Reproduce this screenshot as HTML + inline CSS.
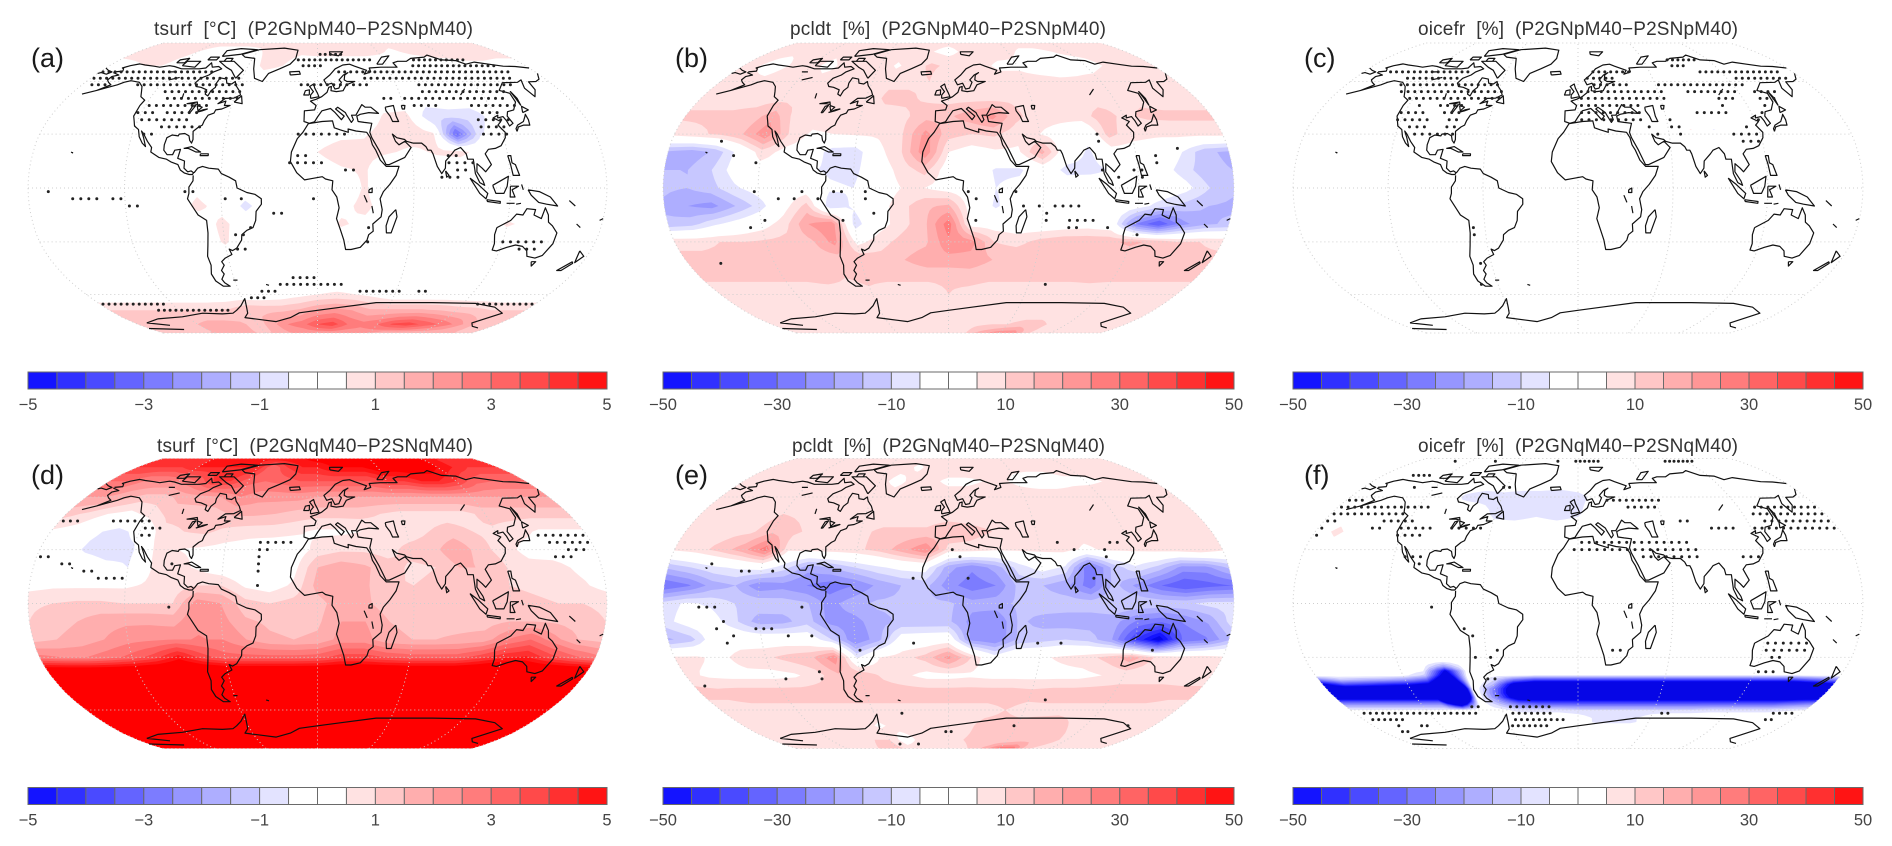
<!DOCTYPE html>
<html lang="en">
<head>
<meta charset="utf-8">
<title>Climate model difference maps</title>
<style>
html,body{margin:0;padding:0;background:#fff;}
svg{display:block;font-family:"Liberation Sans",sans-serif;filter:blur(0.35px);}
.title{font-size:19px;fill:#333;white-space:pre;}
.plabel{font-size:27px;fill:#1a1a1a;}
.tick{font-size:16.5px;fill:#444;text-anchor:middle;}
</style>
</head>
<body>
<svg id="fig" xmlns="http://www.w3.org/2000/svg" width="1892" height="846" viewBox="0 0 1892 846">
<rect width="1892" height="846" fill="#fff"/>
<g id="maps"></g>
<g id="bars"></g>
<text class="title" x="154" y="35" textLength="319" xml:space="preserve">tsurf  [°C]  (P2GNpM40−P2SNpM40)</text>
<text class="title" x="790" y="35" textLength="316" xml:space="preserve">pcldt  [%]  (P2GNpM40−P2SNpM40)</text>
<text class="title" x="1418" y="35" textLength="320" xml:space="preserve">oicefr  [%]  (P2GNpM40−P2SNpM40)</text>
<text class="title" x="157" y="452" textLength="316" xml:space="preserve">tsurf  [°C]  (P2GNqM40−P2SNqM40)</text>
<text class="title" x="792" y="452" textLength="313" xml:space="preserve">pcldt  [%]  (P2GNqM40−P2SNqM40)</text>
<text class="title" x="1418" y="452" textLength="320" xml:space="preserve">oicefr  [%]  (P2GNqM40−P2SNqM40)</text>
<text class="plabel" x="31" y="67">(a)</text>
<text class="plabel" x="675" y="67">(b)</text>
<text class="plabel" x="1304" y="67">(c)</text>
<text class="plabel" x="31" y="484">(d)</text>
<text class="plabel" x="675" y="484">(e)</text>
<text class="plabel" x="1304" y="484">(f)</text>
</svg>
<script>
/* ---------- grid axes ---------- */
const gridLons = [-180,-165,-150,-135,-120,-105,-90,-75,-60,-45,-30,-15,0,15,30,45,60,75,90,105,120,135,150,165];
const stdLats = [90,80,70,60,50,40,30,20,10,0,-10,-20,-30,-40,-50,-60,-70,-80,-90];
const zeroRow = [0,0,0,0,0,0,0,0,0,0,0,0,0,0,0,0,0,0,0,0,0,0,0,0];

/* ---------- colour scale ---------- */
const levelEdges = [0.5,1,1.5,2,2.5,3,3.5,4,4.5,5];
const redFills = ['#ffe2e2','#ffc7c7','#ffaeae','#ff9696','#ff7c7c','#ff6464','#ff4a4a','#ff3030','#ff1414','#ff0000'];
const blueFills = ['#e3e3ff','#c7c7ff','#aeaeff','#9696ff','#7c7cff','#6464ff','#4a4aff','#3030ff','#1414ff','#0606e6'];
const tempTicks = ['−5','−3','−1','1','3','5'];
const pctTicks = ['−50','−30','−10','10','30','50'];

/* ---------- (a) tsurf P, deg C ---------- */
const fieldA = [
[.7,.7,.7,.7,.7,.7,.7,.7,.7,.7,.7,.7,.7,.7,.7,.7,.7,.7,.7,.7,.7,.7,.7,.7],
[.7,.7,.7,.6,.5,.3,.3,.3,.4,.7,.7,.6,.7,.7,.7,.7,.6,.4,.6,.7,.7,.7,.7,.7],
[.3,.4,.5,.5,.4,.1,0,0,.1,.7,.5,.2,.1,.1,.1,.1,.1,.1,.1,.2,.3,.4,.4,.3],
zeroRow,
zeroRow,
[0,0,0,0,0,0,0,0,0,0,0,0,0,-.5,-.2,.6,.7,-1,-.8,-.9,-.1,0,0,0],
[0,0,0,0,0,0,0,0,0,0,0,0,.1,.3,.4,.9,1,.6,-3.2,-.6,0,0,0,0],
[0,0,0,0,0,0,0,0,0,0,0,.2,.5,.9,.8,.6,.3,.6,.7,.2,0,0,0,0],
[0,0,0,0,0,0,0,0,0,0,0,0,.1,.4,.6,-.5,0,0,0,0,0,0,0,0],
[0,0,0,0,0,0,0,.3,-.4,0,0,0,-.4,0,.6,-.5,0,0,0,0,0,0,0,0],
[0,0,0,0,0,0,0,.7,.2,-.7,0,0,0,.3,.7,0,0,0,0,0,0,0,0,0],
[0,0,0,0,0,0,0,0,.7,0,0,0,0,.6,.3,0,0,0,0,0,.6,.3,0,0],
[0,0,0,0,0,0,0,0,.6,0,0,0,0,0,0,0,0,0,0,0,0,0,0,0],
zeroRow,
zeroRow,
[0,0,0,0,0,0,0,0,0,0,.1,.3,.5,.6,.5,.3,0,0,0,0,0,0,0,0],
[1,1,1,1,1,1,1,1.1,1.5,1.4,1.4,1.6,2,2.2,2,1.6,1.6,1.6,1.6,1.5,1.3,1.2,1,1],
[1,1,1,1.2,1.5,1.7,1.7,1.6,1.2,1.8,2.5,2.8,3.5,3.8,3,2.7,3,3.6,3.8,3.4,3,2.5,1.8,1.2],
[1.5,1.5,1.5,1.5,1.5,1.5,1.5,1.5,1.5,1.5,2,2,2,2,2,2,2,1.5,1.5,1.5,1.5,1.5,1.5,1.5]
];
const dotsA = [
[78,2.5,22.5],[74,-17.5,47.5],[74,87.5,132.5],[70,-12.5,2.5],[70,82.5,152.5],
[66,-177.5,-127.5],[66,-122.5,-87.5],[66,17.5,157.5],[62,-177.5,-62.5],[62,37.5,152.5],
[58,-172.5,-162.5],[58,-137.5,-57.5],[58,-12.5,37.5],[58,77.5,147.5],[54,-112.5,-57.5],[54,77.5,137.5],
[50,-107.5,-57.5],[50,47.5,52.5],[50,62.5,132.5],[46,-117.5,-77.5],[46,67.5,82.5],[46,107.5,137.5],
[42,-122.5,-112.5],[42,-102.5,-82.5],[42,112.5,122.5],[38,-117.5,-87.5],[38,107.5,127.5],
[34,-102.5,-77.5],[34,107.5,122.5],[30,-112.5,-107.5],[30,-12.5,17.5],[30,107.5,122.5],
[18,-12.5,-7.5],[18,82.5,87.5],[14,-17.5,2.5],[14,82.5,97.5],[10,87.5,92.5],[10,17.5,22.5],[6,77.5,87.5],
[-2,-167.5,-167.5],[-2,-77.5,-77.5],[-2,-82.5,-82.5],[-6,-152.5,-137.5],[-6,-127.5,-122.5],[-6,-47.5,-47.5],[-6,-57.5,-57.5],[-6,-2.5,-2.5],
[-10,-117.5,-112.5],[-14,-27.5,-22.5],[-22,-42.5,-42.5],[-22,32.5,32.5],[-26,-52.5,-47.5],[-30,32.5,32.5],
[-30,120,147.5],[-34,-52.5,-47.5],[-34,132.5,142.5],
[-50,-17.5,-2.5],[-54,-27.5,17.5],[-58,-42.5,-32.5],[-58,32.5,62.5],[-58,77.5,82.5],[-62,-52.5,-42.5],
[-66,-177.5,-127.5],[-66,132.5,177.5],[-70,-137.5,-77.5]
];

/* ---------- (b) pcldt P, percent ---------- */
const fieldB = [
[7,7,7,7,7,7,7,7,7,7,7,7,7,7,7,7,7,7,7,7,7,7,7,7],
[6,6,6,6,6,6,7,7,8,8,7,5,3,6,7,7,6,4,4,5,6,6,6,6],
[6,5,3,6,6,4,6,6,9,4,8,11,9,8,6,4,4,2,2,3,3,5,6,6],
[7,6,6,7,7,6,5,5,8,9,9,10,5,6,7,7,7,7,6,6,7,9,7,7],
[8,8,8,8,8,9,8,7,7,11,11,9,8,8,8,9,8,8,8,8,9,9,8,8],
[11,11,11,12,18,8,8,9,8,8,9,13,14,18,22,12,7,7,8,12,9,11,11,11],
[7,9,11,15,24,10,4,5,6,6,10,22,12,10,11,7,5,2,-3,12,7,6,7,7],
[-16,-18,-14,-3,8,3,1,-8,-9,3,10,24,5,2,4,4,17,0,-6,2,2,1,-5,-14],
[-15,-15,-10,-2,2,1,-4,-6,-7,1,7,12,1,1,-6,-6,0,-7,-7,-4,-2,-2,-8,-14],
[-14,-15,-12,-6,-2,0,1,-4,-5,1,5,5,2,1,-5,-3,1,0,1,-1,1,1,-3,-10],
[-16,-20,-22,-15,-8,2,12,-9,-4,2,8,14,16,1,-6,0,1,0,-1,0,-2,-8,-12,-15],
[-14,-12,-6,-2,2,8,20,24,-8,2,8,14,28,2,2,1,0,1,2,0,-25,-35,-22,-16],
[9,9,10,10,11,12,14,22,3,8,12,14,24,22,10,8,12,14,14,14,16,14,10,10],
[11,11,11,11,10,11,12,12,14,12,15,18,18,18,15,15,15,14,13,13,12,11,11,11],
[11,11,11,11,11,11,12,10,11,11,11,11,11,12,11,11,11,11,11,11,11,11,11,11],
[7,7,7,7,7,7,7,8,9,7,7,7,10,8,7,7,7,7,7,8,7,7,7,7],
[5,7,7,7,7,7,7,7,5,7,7,7,9,8,7,6,6,6,6,6,6,6,6,6],
[7,7,7,7,6,6,6,7,7,8,9,6,8,8,9,10,10,12,12,9,7,7,7,7],
[7,7,7,7,7,7,7,7,7,7,7,7,7,7,15,20,25,25,12,7,7,7,7,7]
];
const dotsB = [
[30,97.5,97.5],[26,97.5,97.5],[26,-147.5,-147.5],[22,147.5,147.5],[18,-137.5,-137.5],[18,132.5,132.5],
[14,-122.5,-122.5],[14,132.5,132.5],[10,97.5,97.5],[10,117.5,122.5],[6,107.5,107.5],[6,122.5,122.5],
[-2,-122.5,-122.5],[-2,-92.5,-92.5],[-2,-72.5,-67.5],[-2,-52.5,-52.5],[-2,12.5,12.5],[-2,42.5,42.5],
[-6,-107.5,-107.5],[-6,-97.5,-97.5],[-6,-82.5,-82.5],[-6,-52.5,-52.5],[-6,17.5,17.5],
[-10,47.5,47.5],[-10,57.5,57.5],[-10,67.5,82.5],[-14,-47.5,-47.5],[-14,62.5,62.5],
[-18,-117.5,-117.5],[-18,-67.5,-67.5],[-18,17.5,17.5],[-18,62.5,62.5],[-18,77.5,92.5],
[-22,-127.5,-127.5],[-22,77.5,82.5],[-22,102.5,102.5],[-26,122.5,122.5],[-42,-157.5,-157.5],[-54,72.5,72.5]
];

/* ---------- (c) oicefr P, percent ---------- */
const latsC = [90,35,32,29,-90];
const fieldC = [
zeroRow,
zeroRow,
[0,0,0,0,0,0,0,0,0,0,0,0,0,0,0,0,0,6.5,-6.5,0,0,0,0,0],
zeroRow,
zeroRow
];
const dotsC = [
[74,82.5,107.5],[70,82.5,92.5],[66,-157.5,-92.5],[66,12.5,42.5],[66,102.5,167.5],
[62,-137.5,-97.5],[62,7.5,27.5],[62,127.5,167.5],[58,-137.5,-62.5],[58,12.5,37.5],[58,62.5,127.5],
[54,-132.5,-57.5],[54,2.5,62.5],[54,82.5,117.5],[54,132.5,147.5],
[50,-122.5,-57.5],[50,2.5,62.5],[50,102.5,112.5],[50,132.5,142.5],
[46,-112.5,-112.5],[46,-97.5,-82.5],[46,2.5,42.5],[46,102.5,102.5],[46,132.5,132.5],
[42,-122.5,-107.5],[42,-92.5,-82.5],[42,2.5,42.5],[42,82.5,102.5],[42,127.5,127.5],
[38,-122.5,-102.5],[38,-87.5,-82.5],[38,2.5,42.5],[38,62.5,62.5],[38,122.5,122.5],
[34,-112.5,-102.5],[34,-87.5,-82.5],[34,47.5,47.5],[34,62.5,67.5],[34,112.5,112.5],
[30,-107.5,-82.5],[30,52.5,52.5],[30,67.5,67.5],[30,102.5,117.5],[26,107.5,117.5],
[-22,-67.5,-67.5],[-26,-67.5,-67.5],[-42,-67.5,-67.5],[-54,-72.5,-72.5]
];

/* ---------- (d) tsurf Q, deg C ---------- */
const fieldD = [
[4.5,4.5,4.5,4.5,4.5,4.5,4.5,4.5,4.5,5,5,5,5.5,5.5,5.5,5.5,5.5,5.5,5,5,5,4.5,4.5,4.5],
[4,4,4,4,4.5,4.5,4.5,4.5,4.5,3,4,4.5,4.5,5,5,5,5.5,5.5,5.5,5.5,5,4.5,4,4],
[3,3,2.5,2.5,2.5,3,4,4,3.2,3,3.2,3.5,3.5,3.5,3.5,3.5,4,4,4.5,4.5,4,3.2,3,3],
[2,2,1.7,1.3,1.3,1.7,1.8,2,2.5,2.2,2.2,2.2,2,2,2,2,2,2,2,2,2,2,2,2],
[1.2,.9,.5,.3,.7,1.2,1.2,1.2,1.6,1.6,1.5,1.3,1.2,1.2,1.2,1,.8,.8,.8,.8,1.2,1.2,1.2,1.2],
[.4,.2,-.4,-.7,-.3,.8,1,1.1,.8,.7,.7,.6,.4,.4,.5,.7,.7,1,1.2,1,.9,.7,.4,.4],
[.2,-.1,-.6,-.8,-.6,.6,.5,.4,.3,.2,.1,.1,.7,.9,.9,.8,1.2,1.3,2,1.2,.8,.3,.2,.2],
[.3,.1,0,-.3,-.5,.5,.7,.4,.1,-.1,-.4,.3,1.5,1.8,1.6,1.2,.9,1,1.5,1.5,1,.7,.7,.4],
[.3,.4,.4,.4,.4,.6,.7,1,1,.4,.2,.6,1.7,2,1.6,1,1,1.1,1.2,1.1,1,.9,.8,.6],
[.9,1,1.1,1.1,1,1,1,2.3,2,1.2,1,1.2,1.3,1.8,1.6,1.2,1.2,1.2,1.2,1.2,1.2,1.1,1,1],
[1,1.3,1.5,1.8,1.9,1.9,1.8,2.5,2.2,1.6,1.4,1.3,1.4,2,2,1.5,1.4,1.3,1.3,1.3,1.5,1.5,1.4,1.2],
[1.3,1.5,1.7,2,2.3,2.4,2.5,2.5,2.5,2,1.6,1.5,1.6,2.2,2.2,1.6,1.5,1.5,1.6,1.7,2.5,3,2.2,1.5],
[2.7,2.5,2.5,2.8,3.2,3.8,4.8,3.8,3.2,3.2,3.2,3.2,3.3,3.8,3.8,3.5,3.3,3.3,3.3,3.8,4.4,4.6,3.8,3.2],
[7,7,7,7,7,7,7,7,7,7,7,7,7,7,7,7,7,7,7,7,7,7,7,7],
[8,8,8,8,8,8,8,8,8,8,8,8,8,8,8,8,8,8,8,8,8,8,8,8],
[8,8,8,8,8,8,8,8,8,8,8,8,8,8,8,8,8,8,8,8,8,8,8,8],
[8,8,8,8,8,8,8,8,8,8,8,8,8,8,8,8,8,8,8,8,8,8,8,8],
[8,8,8,8,8,8,8,8,8,8,8,8,8,8,8,8,8,8,8,8,8,8,8,8],
[8,8,8,8,8,8,8,8,8,8,8,8,8,8,8,8,8,8,8,8,8,8,8,8]
];
const dotsD = [
[46,-177.5,-167.5],[46,-142.5,-117.5],[42,-117.5,-107.5],[38,-117.5,-112.5],[38,147.5,177.5],
[34,-37.5,-17.5],[34,152.5,177.5],[30,-37.5,-32.5],[30,162.5,172.5],[26,-37.5,-37.5],[26,-177.5,-172.5],
[26,152.5,162.5],[22,-37.5,-37.5],[22,-162.5,-157.5],[22,-92.5,-92.5],[18,-37.5,-37.5],[18,-147.5,-142.5],
[14,-137.5,-122.5],[10,-37.5,-37.5],[-2,-92.5,-92.5]
];

/* ---------- (e) pcldt Q, percent ---------- */
const fieldE = [
[7,7,7,7,7,7,7,7,7,7,7,7,7,7,7,7,7,7,7,7,7,7,7,7],
[7,7,7,6,6,6,6,7,8,7,4,7,8,8,7,7,6,6,6,7,7,7,7,7],
[7,7,6,6,6,6,7,8,7,3,7,6,4,4,5,6,4,3,3,4,4,5,6,7],
[7,6,7,7,5,7,7,5,8,8,7,7,7,7,7,7,7,7,7,7,8,8,7,7],
[7,7,7,7,10,9,7,7,7,7,7,7,7,7,7,7,8,9,9,7,7,9,8,7],
[8,8,8,9,14,11,8,7,9,11,11,11,14,12,10,9,7,7,7,7,8,9,9,8],
[6,8,12,18,28,6,7,8,9,12,18,25,8,8,6,6,6,7,4,6,6,7,8,10],
[-14,-10,-6,-4,-2,-8,-18,-15,-10,-6,-3,-2,-18,-24,-18,-8,-2,-6,-30,-14,-6,-12,-22,-22],
[-30,-26,-18,-15,-24,-22,-25,-28,-25,-19,-15,-13,-23,-28,-25,-13,-15,-19,-28,-13,-22,-30,-35,-32],
[-8,-4,-6,-10,-11,-12,-14,-22,-17,-14,-14,-14,-14,-18,-17,-14,-12,-12,-12,-10,-10,-11,-11,-8],
[-7,-2,-2,-9,-18,-17,-12,-22,-22,-17,-14,-14,-14,-22,-25,-14,-17,-18,-18,-18,-26,-29,-24,-19],
[-16,-12,0,1,1,1,0,-10,-25,-17,-1,0,1,-22,-25,-14,-12,-10,-12,-20,-40,-55,-30,-26],
[6,6,3,8,9,12,14,24,-6,5,8,12,22,10,-2,4,4,6,8,12,18,10,7,8],
[7,4,3,3,3,4,8,14,14,9,6,3,3,4,3,3,3,3,3,5,7,7,7,7],
[12,12,13,13,13,13,13,13,13,13,13,13,13,13,13,13,12,13,13,13,13,13,13,12],
[7,7,8,8,8,8,8,8,8,8,8,8,8,8,8,10,8,8,8,8,8,8,8,7],
[7,7,7,7,7,7,7,7,4,7,7,7,7,8,12,12,12,13,14,10,7,7,7,7],
[7,7,7,7,7,7,7,10,10,2,6,7,8,10,12,11,10,12,15,12,8,7,7,7],
[8,8,8,8,8,8,8,12,12,8,8,8,8,8,12,18,30,30,12,8,8,8,8,8]
];
const dotsE = [
[34,72.5,72.5],[34,107.5,112.5],[30,2.5,2.5],[30,82.5,82.5],[30,102.5,102.5],[26,7.5,7.5],[26,102.5,102.5],
[22,-152.5,-152.5],[18,-132.5,-127.5],[18,-112.5,-112.5],[14,-22.5,-22.5],[14,12.5,12.5],[14,92.5,92.5],
[-2,-157.5,-147.5],[-2,-92.5,-92.5],[-10,-142.5,-142.5],[-14,-147.5,-147.5],[-14,-122.5,-112.5],
[-18,-137.5,-137.5],[-18,-102.5,-102.5],[-18,-87.5,-87.5],[-22,-142.5,-142.5],[-22,-22.5,-22.5],[-22,57.5,57.5],[-22,72.5,72.5],
[-26,-57.5,-57.5],[-26,132.5,132.5],[-38,-87.5,-87.5],[-42,-112.5,-112.5],[-42,-87.5,-87.5],[-46,-172.5,-172.5],
[-54,72.5,72.5],[-62,-37.5,-37.5],[-70,57.5,57.5],[-70,157.5,157.5],[-74,-2.5,2.5],[-84,-52.5,-52.5],[-84,-32.5,-32.5]
];

/* ---------- (f) oicefr Q, percent ---------- */
const latsF = [90,70,60,50,40,30,-30,-34,-38,-41,-44,-48,-52,-56,-60,-64,-68,-72,-90];
const fieldF = [
zeroRow,
zeroRow,
[0,0,0,0,0,0,-6,-8,-7,-8,-8,-9,-7,-3,0,0,0,0,0,0,0,0,0,0],
[0,0,0,0,0,0,0,0,-7,-8,-6,-8,-6,0,0,0,0,0,0,0,0,0,0,0],
[0,7,0,0,0,0,0,0,0,0,0,0,0,0,0,0,0,0,0,0,0,0,0,0],
zeroRow,
zeroRow,
[0,0,0,0,0,0,-8,0,0,0,0,0,0,0,0,0,0,0,0,0,0,0,0,0],
[0,0,0,0,0,-5,-60,0,0,0,0,0,0,0,0,0,0,0,0,0,0,0,0,0],
[-2,-2,-2,-2,-4,-15,-70,4,-5,-4,-8,-8,-8,-8,-8,-8,-8,-8,-8,-8,-8,-8,-8,-4],
[-50,-25,-30,-35,-40,-50,-100,4,-10,-55,-70,-70,-70,-70,-70,-70,-70,-70,-70,-70,-70,-70,-70,-60],
[-70,-70,-70,-70,-70,-70,-200,4,-30,-70,-70,-70,-70,-70,-70,-70,-70,-70,-70,-70,-70,-70,-70,-70],
[-70,-70,-70,-70,-70,-70,-200,4,-30,-70,-70,-70,-70,-70,-70,-70,-70,-70,-70,-70,-70,-70,-70,-70],
[-25,-25,-25,-25,-25,-25,-80,0,-15,-30,-35,-35,-35,-35,-35,-35,-35,-35,-35,-35,-35,-35,-35,-30],
[-5,-5,-5,-5,-5,-5,-5,0,-3,-8,-8,-8,-10,-10,-10,-10,-10,-10,-10,-8,-8,-8,-8,-6],
[0,0,0,0,0,0,0,0,0,0,0,0,-2,-6,-6,-6,-2,0,0,0,0,0,0,0],
[0,0,0,0,0,0,0,0,0,0,0,0,-1,-6,-6,-6,-3,0,0,0,0,0,0,0],
zeroRow,
zeroRow
];
const dotsF = [
[86,-137.5,-137.5],[86,-92.5,-92.5],[86,-22.5,-22.5],[86,-2.5,22.5],[86,97.5,127.5],[74,-152.5,-137.5],
[66,-137.5,-137.5],[66,-62.5,-57.5],[58,22.5,62.5],[58,-177.5,-167.5],
[54,-177.5,-132.5],[54,-127.5,-112.5],[54,37.5,57.5],[54,132.5,177.5],[50,-177.5,-127.5],[50,127.5,177.5],
[46,-177.5,-172.5],[46,-137.5,-117.5],[46,72.5,77.5],[46,132.5,177.5],
[42,-177.5,-177.5],[42,-142.5,-137.5],[42,-122.5,-102.5],[42,-87.5,-67.5],[42,92.5,107.5],[42,122.5,177.5],
[38,-177.5,-177.5],[38,-122.5,-107.5],[34,2.5,72.5],[30,-2.5,77.5],[26,-112.5,-102.5],[26,42.5,77.5],[26,107.5,117.5],[22,-102.5,-102.5],
[-2,-92.5,-92.5],[-14,-72.5,-72.5],[-18,-67.5,-67.5],[-22,122.5,147.5],[-26,122.5,147.5],[-26,-52.5,-52.5],[-26,22.5,27.5],[-30,-67.5,-67.5],[-30,-57.5,-57.5],[-30,127.5,132.5],
[-38,122.5,132.5],[-42,-62.5,-57.5],[-42,-62.5,-62.5],
[-58,-82.5,-77.5],[-58,-52.5,-22.5],[-62,-172.5,-82.5],[-62,-52.5,-22.5],[-62,67.5,72.5],[-62,157.5,172.5],
[-66,-172.5,-147.5],[-66,-52.5,-12.5],[-66,157.5,162.5],[-70,-157.5,-157.5],[-70,-137.5,-132.5],[-70,-57.5,-27.5],[-74,-162.5,-157.5]
];

/* ---------- coastlines (lon,lat polylines) ---------- */
const coasts = [
[-168,66,-162,66.5,-164,68,-166,68.5,-162,70,-156,71.2,-150,70.5,-141,69.7,-135,69,-128,70,-123,69.5,-115,68,-108,68,-100,68,-95,68.5,-94,72,-90,69,-85,69.5,-81,68,-86,66,-88,64,-93,62,-94.5,59,-92,57,-88,56.5,-82.5,55,-82,52.5,-79.5,51.5,-79,54.5,-77,56.5,-78,59,-77.5,62.3,-72,61.5,-70,59,-66,58.5,-64,60,-62,57.5,-58,54.5,-56,52,-60,50.2,-66,50,-70,47,-65,48.5,-65,46,-61,46,-66,44,-70,43.5,-70.5,41.7,-74,40.5,-75.5,37.5,-76,35,-78,34,-81,31.5,-80,27,-80.5,25,-82,26.5,-83,29,-86,30.3,-89.5,30,-90,29,-94,29.5,-97,28,-97.7,24,-97.5,21,-95,18.5,-91.5,18.5,-90.5,21,-87,21.5,-88,16.5,-83.5,15,-83.5,11,-81,9,-79,9.5,-77.3,8.5,-78,7.5,-80,7.5,-83,8.3,-85.7,10,-87.5,13,-92,14.5,-95,16,-100,17,-105.5,20,-105.5,22.5,-109,26,-112.5,30,-114.7,31.7,-112,28,-109.5,23,-112,25,-115,28.5,-117,32.5,-120.5,34.5,-122,37,-124,40,-124,46,-123,49,-127.5,51,-130,54,-133,57,-138,59.5,-146,60.5,-150,59.5,-153,58,-158,56.5,-164,54.7,-158,58,-162,59.5,-165,61,-165,63,-161,64,-168,65.5],
[-164,54.7,-172,52.5],
[-77,8.5,-75,11,-72,12,-68,11,-62,10.5,-60,8,-55,6,-51,4,-50,0,-44,-2.5,-39,-3.5,-35,-6,-35,-9,-38.5,-13,-39,-18,-41,-22,-45,-23.5,-48.5,-26,-49,-29,-53,-33.5,-56,-34.8,-58,-34,-57,-37,-62,-39,-65,-41,-64,-43,-67,-46,-66,-48,-69,-51,-68,-53,-65,-55,-70,-55,-74,-52,-75,-48,-73,-43,-73.5,-38,-71.5,-32,-70,-25,-70,-18,-75,-15,-77,-12,-81,-6,-80,-3,-80,.5,-77.5,4,-77.5,7],
[-6,35.8,3,37,10,37.3,11,33.5,15,32.3,20,31,20,32.8,25,31.7,32,31,34,28,35,24,37,21,39.5,15.5,43,12,51,12,49,7,45,2,41,-2,39,-6,40.5,-12,40,-16,35,-20,35.5,-24,32.8,-26,32,-29,28,-33,22,-34.2,18.5,-34.2,17,-29,14.5,-23,12,-17,13.5,-11,12,-5,9,-1,9.5,4,5,5,3,6.3,-4,5.2,-8,4.5,-13,8.5,-17,14.7,-16.5,20,-13,27.5,-9.5,31,-6,35.8],
[-5.5,36,-9,37,-9,43,-2,43.5,-1,46,-5,48.5,-1,49.5,3,51,7,53.5,8.5,56.5,10.5,57,10,54.5,14,54,19,54.5,22,58,29,60,23,60,21,61,22,64,25,65.5,21,64,17,61,18.5,59.5,16,56,13,55.5,11,59,7,58,5,61,10,64,15,68,22,70.5,28,71,32,69.7,41,67,38,64.5,44,66,44,68.5,54,69,60,69,68,69,67,72,72,73,80,73,86,75,100,76,105,77.5,113,74,125,73.5,130,71,140,72.5,150,71,160,69.7,170,69.5,180,68.5],
[180,65,175,61.5,170,60,164,59.8,162,55,157,51,155.5,56,160,61,155,59.5,143,59.3,135,54.7,141,53,140,48,135,43.5,130,42.5,128,40,129.5,36,126.5,34.5,126,37.5,125,39.7,121,39,122,40.5,118,39,122,37,119,35,122,31,121,28,117,23.5,113,22,108.5,21.5,106,19,109,13,105,9,103,11,100,13.5,99.5,9,103,4,104,1.5,101,3,98.5,8,98,16,94.5,16,94,19,91,22.5,87,21,85,19,80.5,15,80,11,77.5,8,75,12,73,19,72,21,70,21,69,23,66.5,25,61,25,57,26,56,27,51,28,48.5,30,50,26,52,24,56,26,59.5,22.5,55,17,45,13,43,13,39,21,35,28,34,31,36,36,31,36.5,27,37,26.5,40,29,41,35,42,41.5,41.5,37,45,33,45,31,46.5,28,43,26,40.5,23,40.5,24,38,22.5,36.5,19.5,41,19,42,14,45,12.5,44,18,40,16,38,12,42,9,44.3,3,43,0,39.5,-2,36.8,-5.5,36],
[-180,68.5,-175,67,-170,66,-172,64.5,-178,65.5,-180,65],
[114,-22,113.5,-26,115,-31,115,-34.5,118,-35,124,-33,129,-31.7,134,-32.5,138,-35,140,-38,146,-39,150,-37.5,153,-31,153,-25,149,-21,146,-19,145,-15,142.5,-11,141,-17,136,-15,136.5,-12,131,-11.5,129,-15,125,-14.5,122,-18,117,-20.5,114,-22],
[-73,78,-60,82,-35,83.5,-20,81.5,-20,75,-24,71,-32,68,-40,65,-43,60,-50,62,-54,68,-58,75,-68,76,-73,78],
[-180,-84,-145,-85],
[-168,-79,-150,-81],
[-150,-76,-168,-79],
[-150,-76,-124,-74.5,-102,-72,-85,-72.5,-75,-72,-70,-70,-64,-67,-60,-64,-58,-62.5,-60,-68,-62,-72,-67,-75,-50,-77,-40,-78,-25,-75,-16,-71.7,0,-70,20,-68,48,-65,94,-65,130,-65.5,150,-68,164,-72,152,-79,160,-82,170,-83.5],
[-5,50,1,51,0,53,-2,56,-3,58.5,-6,57,-3,54,-5,52,-5,50],
[-6,52,-10,52,-9,54.5,-6,55,-6,52],
[-22,64,-14,64.5,-15,66.3,-23,66,-22,64],
[49,-12,50,-16,47,-25,44,-25,43.5,-21,45,-16,49,-12],
[130,31.5,132,34,136,35,140,35,141,38,141,41,140,40,137,37,132,35,130,33,130,31.5],
[140,42,145,43.5,142,45.5,140,42],
[142,46,143,50,142.5,54,142,50,142,46],
[95,5.5,100,2,106,-3,105,-6,101,-3,95,5.5],
[105.5,-6.5,114,-7.5,114,-8.5,106,-7.5,105.5,-6.5],
[109,1.5,114,4,119,6.5,118,1,116,-3,111,-3,109,1.5],
[120,1,125,1,121,-1,123,-5,120,-5,120,1],
[131,-1,138,-2,145,-5,150,-10,143,-9,138,-8,133,-4,131,-1],
[120,18,122,18,122,14,124,13,126,7,122,7,121,13,120,18],
[80,9.5,82,7,80.5,6,80,9.5],
[173,-35,178,-38,175,-41.5,174,-39,173,-35],
[173,-41,174,-42,170,-46,167,-46,173,-41],
[145,-41,148,-41,147,-43.5,145,-41],
[-85,22,-80,23,-74,20,-77,20,-82,22,-85,22],
[-74,19,-69,19,-69,18,-74,18,-74,19],
[-156,20,-155,19.5,-155,20],
[-59,48,-53,47,-55,51.5,-59,48],
[-65,62,-62,67,-75,73,-88,73,-78,69,-72,67,-65,62],
[-117,70,-105,69,-105,73,-117,73,-117,70],
[-90,76.5,-75,78,-62,82,-80,83,-92,81,-90,76.5],
[-125,72,-118,72,-118,75,-125,74,-125,72],
[-100,74,-92,74,-92,76,-100,76,-100,74],
[-84,73,-78,73,-78,75,-84,75,-84,73],
[52,71,57,71,68,77,60,76,52,71],
[12,78,20,77,25,80,12,80,12,78],
[47,45,53,46,53,40,54,37,50,37,49,40,47,43,47,45],
[58.5,46,61,46,60,44,58.5,44,58.5,46],
[104,52,110,55.5],
[-92,47,-85,48,-84,46.5,-87,47,-92,47],
[-87,42,-85,46,-87,45.5,-88,42,-87,42],
[-84,46,-80,45,-82,43,-84,46],
[-83,42,-79,43,-76,44,-79,43.5,-83,42],
[32,-1,34,0,34,-2.5,32,-2.5,32,-1],
[29,-4,31,-8],
[34,-10,35,-14],
[-123,66,-118,66],
[-117,61,-110,62.5],
[-98,53,-97,50],
[-61,-51.5,-58,-51.5],
[178,-18,180,-17],
[164,-20,167,-22],
[157,-7,161,-10],
[-38,-54,-36,-54.5],
[124,-9,127,-8.5],
[127,2,128,-1],
[118,-8.5,123,-8.5]
];

/* ---------- Robinson projection tables ---------- */
const robinsonLen = [1,.9986,.9954,.99,.9822,.973,.96,.9427,.9216,.8962,.8679,.835,.7986,.7597,.7186,.6732,.6213,.5722,.5322];
const robinsonDrop = [0,.062,.124,.186,.248,.31,.372,.434,.4958,.5571,.6176,.6769,.7346,.7903,.8435,.8936,.9394,.9761,1];

function makeProjection(cx, cy, rx, ry) {
  return function (lat, lon) {
    const a = Math.min(Math.abs(lat) / 5, 18);
    const i = Math.min(17, Math.floor(a));
    const f = a - i;
    const len = robinsonLen[i] + (robinsonLen[i + 1] - robinsonLen[i]) * f;
    const drop = robinsonDrop[i] + (robinsonDrop[i + 1] - robinsonDrop[i]) * f;
    return [cx + rx * len * lon / 180, cy - (lat < 0 ? -1 : 1) * ry * drop];
  };
}

function sampleField(rows, lats, lat, lon) {
  let j = 0;
  while (j < lats.length - 2 && lat < lats[j + 1]) j++;
  const t = (lats[j] - lat) / (lats[j] - lats[j + 1]);
  const u = (lon + 180) / 15;
  const i0 = Math.floor(u) % 24;
  const i1 = (i0 + 1) % 24;
  const s = u - Math.floor(u);
  const top = rows[j][i0] * (1 - s) + rows[j][i1] * s;
  const bot = rows[j + 1][i0] * (1 - s) + rows[j + 1][i1] * s;
  return top * (1 - t) + bot * t;
}

const NS = 'http://www.w3.org/2000/svg';
function shape(tag, parent) {
  const e = document.createElementNS(NS, tag);
  parent.appendChild(e);
  return e;
}
function pathFrom(pts) {
  return 'M' + pts.map(function (p) { return p[0].toFixed(1) + ' ' + p[1].toFixed(1); }).join('L') + 'Z';
}

function clipQuad(quad, t) {
  const out = [];
  for (let k = 0; k < quad.length; k++) {
    const a = quad[k], b = quad[(k + 1) % quad.length];
    const ai = a[2] >= t, bi = b[2] >= t;
    if (ai) out.push(a);
    if (ai !== bi) {
      const r = (t - a[2]) / (b[2] - a[2]);
      out.push([a[0] + (b[0] - a[0]) * r, a[1] + (b[1] - a[1]) * r, t]);
    }
  }
  return out;
}

function drawBands(group, rows, lats, scale, proj, panelId) {
  const dLat = 2.5, dLon = 5;
  const ny = Math.round(180 / dLat), nx = Math.round(360 / dLon);
  const grid = [];
  for (let j = 0; j <= ny; j++) {
    const line = [];
    for (let i = 0; i <= nx; i++) {
      const lo = -180 + i * dLon;
      line.push(sampleField(rows, lats, 90 - j * dLat, lo >= 180 ? -180 : lo));
    }
    grid.push(line);
  }
  [1, -1].forEach(function (sign) {
    levelEdges.forEach(function (edge, k) {
      const t = edge * scale;
      let d = '';
      for (let j = 0; j < ny; j++) {
        const la0 = 90 - j * dLat, la1 = la0 - dLat;
        let runStart = null;
        for (let i = 0; i <= nx; i++) {
          const lo0 = -180 + i * dLon, lo1 = lo0 + dLon;
          let full = false, any = false, vals = null;
          if (i < nx) {
            vals = [grid[j][i] * sign, grid[j][i + 1] * sign, grid[j + 1][i + 1] * sign, grid[j + 1][i] * sign];
            full = vals.every(function (v) { return v >= t; });
            any = vals.some(function (v) { return v >= t; });
          }
          if (full) {
            if (runStart === null) runStart = lo0;
          } else {
            if (runStart !== null) {
              d += pathFrom([proj(la0, runStart), proj(la0, lo0), proj(la1, lo0), proj(la1, runStart)]);
              runStart = null;
            }
            if (any) {
              const poly = clipQuad([[la0, lo0, vals[0]], [la0, lo1, vals[1]], [la1, lo1, vals[2]], [la1, lo0, vals[3]]], t);
              d += pathFrom(poly.map(function (p) { return proj(p[0], p[1]); }));
            }
          }
        }
      }
      if (d) {
        const p = shape('path', group);
        p.setAttribute('d', d);
        p.setAttribute('fill', sign > 0 ? redFills[k] : blueFills[k]);
        
        
      }
    });
  });
}

function drawGraticule(group, proj, panelId) {
  let d = '';
  [-60, -30, 0, 30, 60].forEach(function (la) {
    const a = proj(la, -180), b = proj(la, 180);
    d += 'M' + a[0].toFixed(1) + ' ' + a[1].toFixed(1) + 'L' + b[0].toFixed(1) + ' ' + b[1].toFixed(1);
  });
  [-180, -120, -60, 0, 60, 120, 180].forEach(function (lo) {
    const pts = [];
    for (let la = -90; la <= 90; la += 5) pts.push(proj(la, lo));
    d += 'M' + pts.map(function (p) { return p[0].toFixed(1) + ' ' + p[1].toFixed(1); }).join('L');
  });
  [-90, 90].forEach(function (la) {
    const a = proj(la, -180), b = proj(la, 180);
    d += 'M' + a[0].toFixed(1) + ' ' + a[1].toFixed(1) + 'L' + b[0].toFixed(1) + ' ' + b[1].toFixed(1);
  });
  const g = shape('path', group);
  g.setAttribute('d', d);
  g.setAttribute('fill', 'none');
  g.setAttribute('stroke', '#cfcfcf');
  g.setAttribute('stroke-width', '1');
  g.setAttribute('stroke-dasharray', '1 3');
  
  
}

function drawCoasts(group, proj, panelId) {
  let d = '';
  coasts.forEach(function (line) {
    const pts = [];
    for (let k = 0; k < line.length; k += 2) pts.push(proj(line[k + 1], line[k]));
    d += 'M' + pts.map(function (p) { return p[0].toFixed(1) + ' ' + p[1].toFixed(1); }).join('L');
  });
  const c = shape('path', group);
  c.setAttribute('d', d);
  c.setAttribute('fill', 'none');
  c.setAttribute('stroke', '#111');
  c.setAttribute('stroke-width', '1.2');
  c.setAttribute('stroke-linejoin', 'round');
  
  
}

function drawDots(group, runs, proj, panelId) {
  let d = '';
  runs.forEach(function (run) {
    for (let lo = run[1]; lo <= run[2] + 0.01; lo += 5) {
      const p = proj(run[0], lo);
      d += 'M' + (p[0] - 1.5).toFixed(1) + ' ' + p[1].toFixed(1) + 'a1.5 1.5 0 1 0 3 0a1.5 1.5 0 1 0 -3 0Z';
    }
  });
  const s = shape('path', group);
  s.setAttribute('d', d);
  s.setAttribute('fill', '#222');
  
  
}

function drawBar(parent, x, y, w, h, labels, panelId) {
  const g = shape('g', parent);
  
  
  const cellFills = blueFills.slice(0, 9).reverse().concat(['#ffffff', '#ffffff']).concat(redFills.slice(0, 9));
  const cw = w / cellFills.length;
  cellFills.forEach(function (fill, i) {
    const r = shape('rect', g);
    r.setAttribute('x', (x + i * cw).toFixed(2));
    r.setAttribute('y', y);
    r.setAttribute('width', cw.toFixed(2));
    r.setAttribute('height', h);
    r.setAttribute('fill', fill);
    r.setAttribute('stroke', '#6a6a6a');
    r.setAttribute('stroke-width', '1');
    
    
  });
  labels.forEach(function (label, i) {
    const t = shape('text', g);
    t.setAttribute('class', 'tick');
    t.setAttribute('x', (x + i * 4 * cw).toFixed(1));
    t.setAttribute('y', y + 38);
    t.textContent = label;
    
    
  });
}

const panelA = { id: 'panel-a', rows: fieldA, lats: stdLats, dots: dotsA, scale: 1, ticks: tempTicks, cx: 317.5, cy: 188, rx: 289.5 };
const panelB = { id: 'panel-b', rows: fieldB, lats: stdLats, dots: dotsB, scale: 10, ticks: pctTicks, cx: 948.5, cy: 188, rx: 285.5 };
const panelC = { id: 'panel-c', rows: fieldC, lats: latsC, dots: dotsC, scale: 10, ticks: pctTicks, cx: 1578, cy: 188, rx: 285 };
const panelD = { id: 'panel-d', rows: fieldD, lats: stdLats, dots: dotsD, scale: 1, ticks: tempTicks, cx: 317.5, cy: 603.5, rx: 289.5 };
const panelE = { id: 'panel-e', rows: fieldE, lats: stdLats, dots: dotsE, scale: 10, ticks: pctTicks, cx: 948.5, cy: 603.5, rx: 285.5 };
const panelF = { id: 'panel-f', rows: fieldF, lats: latsF, dots: dotsF, scale: 10, ticks: pctTicks, cx: 1578, cy: 603.5, rx: 285 };

const mapsLayer = document.getElementById('maps');
const barsLayer = document.getElementById('bars');
[panelA, panelB, panelC, panelD, panelE, panelF].forEach(function (P) {
  const proj = makeProjection(P.cx, P.cy, P.rx, 145);
  const g = shape('g', mapsLayer);
  
  
  drawBands(g, P.rows, P.lats, P.scale, proj, P.id);
  drawGraticule(g, proj, P.id);
  drawCoasts(g, proj, P.id);
  drawDots(g, P.dots, proj, P.id);
  drawBar(barsLayer, P.cx - P.rx, P.cy + 184, P.rx * 2, 17, P.ticks, P.id);
});
</script>
</body>
</html>
